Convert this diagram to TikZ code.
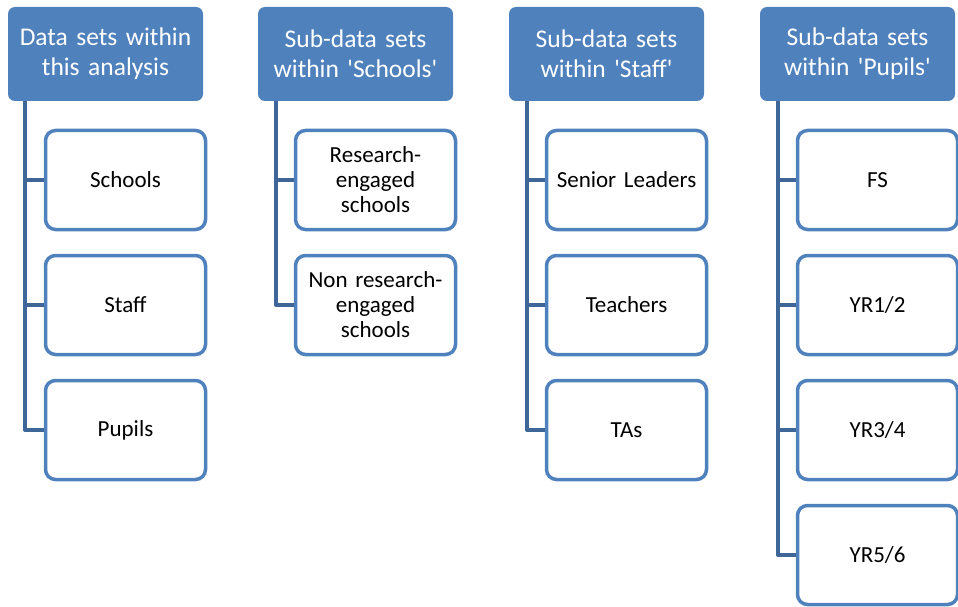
\documentclass[tikz,border=0pt]{standalone}
\usepackage{fontspec}
\setmainfont{Carlito}[Ligatures=TeXOff]
\definecolor{hdr}{HTML}{4F81BD}
\definecolor{conn}{HTML}{3E6699}
\begin{document}
\begin{tikzpicture}[x=1pt,y=-1pt,
  hdrbox/.style={draw=none,fill=hdr,rounded corners=7pt,minimum width=195pt,minimum height=94pt,
    text=white,font=\fontsize{25.5}{30}\selectfont,align=center,inner sep=0pt,text width=190pt},
  childbox/.style={draw=hdr,line width=3.5pt,fill=white,rounded corners=10pt,minimum width=160pt,
    minimum height=99pt,font=\fontsize{23}{25}\selectfont,align=center,inner sep=0pt,text width=156pt},
  link/.style={draw=conn,line width=4pt,line join=round}]
\useasboundingbox (0,0) rectangle (958,607);
% column 1
\node[hdrbox] (h1) at (105.5,54) {Data sets within\\this analysis};
\node[childbox] (c11) at (125.5,180) {Schools};
\node[childbox] (c12) at (125.5,305) {Staff};
\node[childbox] (c13) at (125.5,430) {Pupils};
% column 2
\node[hdrbox] (h2) at (355.5,54) {Sub-data sets\\within 'Schools'};
\node[childbox] (c21) at (375.5,180) {Research-\\engaged\\schools};
\node[childbox] (c22) at (375.5,305) {Non research-\\engaged\\schools};
% column 3
\node[hdrbox] (h3) at (606.5,54) {Sub-data sets\\within 'Staff'};
\node[childbox] (c31) at (626.5,180) {Senior Leaders};
\node[childbox] (c32) at (626.5,305) {Teachers};
\node[childbox] (c33) at (626.5,430) {TAs};
% column 4
\node[hdrbox] (h4) at (857.5,54) {Sub-data sets\\within 'Pupils'};
\node[childbox] (c41) at (877.5,180) {FS};
\node[childbox] (c42) at (877.5,305) {YR1/2};
\node[childbox] (c43) at (877.5,430) {YR3/4};
\node[childbox] (c44) at (877.5,555) {YR5/6};
% connectors
\foreach \h/\x/\last in {h1/25/c13,h2/276/c22,h3/527/c33,h4/778/c44}{
  \draw[link] (\x,101) -- (\x,0 |- \last.west) -- (\last.west);
}
\foreach \c/\x in {c11/25,c12/25,c21/276,c31/527,c32/527,c41/778,c42/778,c43/778}{
  \draw[link] (\x,0 |- \c.west) -- (\c.west);
}
\end{tikzpicture}
\end{document}
